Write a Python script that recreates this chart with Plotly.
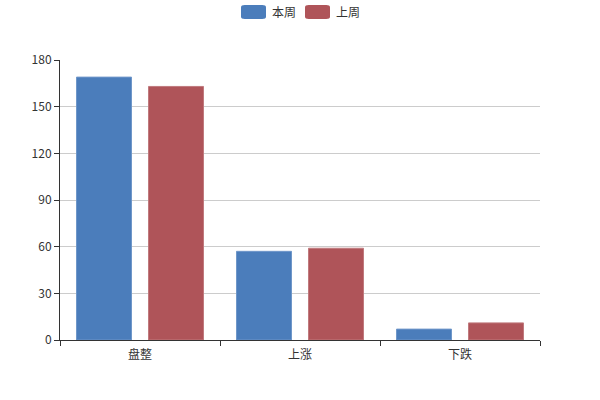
import plotly.graph_objects as go

CATEGORIES = ['盘整', '上涨', '下跌']
THIS_WEEK = [169, 57, 7]
LAST_WEEK = [163, 59, 11]
SERIES_NAMES = ['本周', '上周']
COLORS = ['#4b7dbb', '#af5459']
EDGE_COLORS = ['#6f97c9', '#c07a7e']

FONT = 'Noto Sans CJK SC, Microsoft YaHei, sans-serif'

fig = go.Figure()
for name, values, color, edge in zip(SERIES_NAMES, [THIS_WEEK, LAST_WEEK], COLORS, EDGE_COLORS):
    fig.add_trace(go.Bar(
        x=CATEGORIES, y=values, name=name,
        marker=dict(color=color, line=dict(color=edge, width=1)),
        hoverinfo='x+y+name',
    ))


# custom legend: rounded swatches at the top centre, like the original
def rounded_rect(x0, y0, x1, y1, r):
    return (f'M{x0 + r},{y0} L{x1 - r},{y0} Q{x1},{y0} {x1},{y0 + r} '
            f'L{x1},{y1 - r} Q{x1},{y1} {x1 - r},{y1} L{x0 + r},{y1} '
            f'Q{x0},{y1} {x0},{y1 - r} L{x0},{y0 + r} Q{x0},{y0} {x0 + r},{y0} Z')


shapes = []
annotations = []
legend_x = [241, 305]
for lx, name, color in zip(legend_x, SERIES_NAMES, COLORS):
    # pixel position -> paper coords (plot area spans 60..540 x, 60..340 y)
    px0 = (lx - 60) / 480
    px1 = (lx + 25 - 60) / 480
    py_top = (340 - 5) / 280
    py_bot = (340 - 19) / 280
    shapes.append(dict(
        type='path', xref='paper', yref='paper',
        path=rounded_rect(px0, py_bot, px1, py_top, 0.008),
        fillcolor=color, line=dict(width=0),
    ))
    annotations.append(dict(
        x=(lx + 29 - 60) / 480, y=(340 - 12) / 280, xref='paper', yref='paper',
        text=name, showarrow=False, xanchor='left', yanchor='middle',
        font=dict(size=12, color='#333', family=FONT),
    ))

fig.update_layout(
    width=600, height=400,
    margin=dict(l=60, r=60, t=60, b=60),
    paper_bgcolor='white', plot_bgcolor='white',
    font=dict(family=FONT, size=12, color='#333'),
    showlegend=False,
    barmode='group',
    bargap=0.1,
    bargroupgap=0.236,
    shapes=shapes,
    annotations=annotations,
    xaxis=dict(
        showline=True, linecolor='#333', linewidth=1,
        ticks='outside', tickson='boundaries', ticklen=5, tickcolor='#333',
        ticklabelstandoff=4,
        showgrid=False, tickfont=dict(size=12, color='#333'),
    ),
    yaxis=dict(
        range=[0, 180], dtick=30, tick0=0,
        showline=True, linecolor='#333', linewidth=1,
        ticks='outside', ticklen=5, tickcolor='#333',
        showgrid=True, gridcolor='#cccccc', gridwidth=1,
        zeroline=False, tickfont=dict(size=12, color='#333'),
    ),
)

# drop the default 8px body margin so the figure sits at the page corner
fig.write_html('out.html', config={'displayModeBar': False},
               post_script="document.body.style.margin='0';")
